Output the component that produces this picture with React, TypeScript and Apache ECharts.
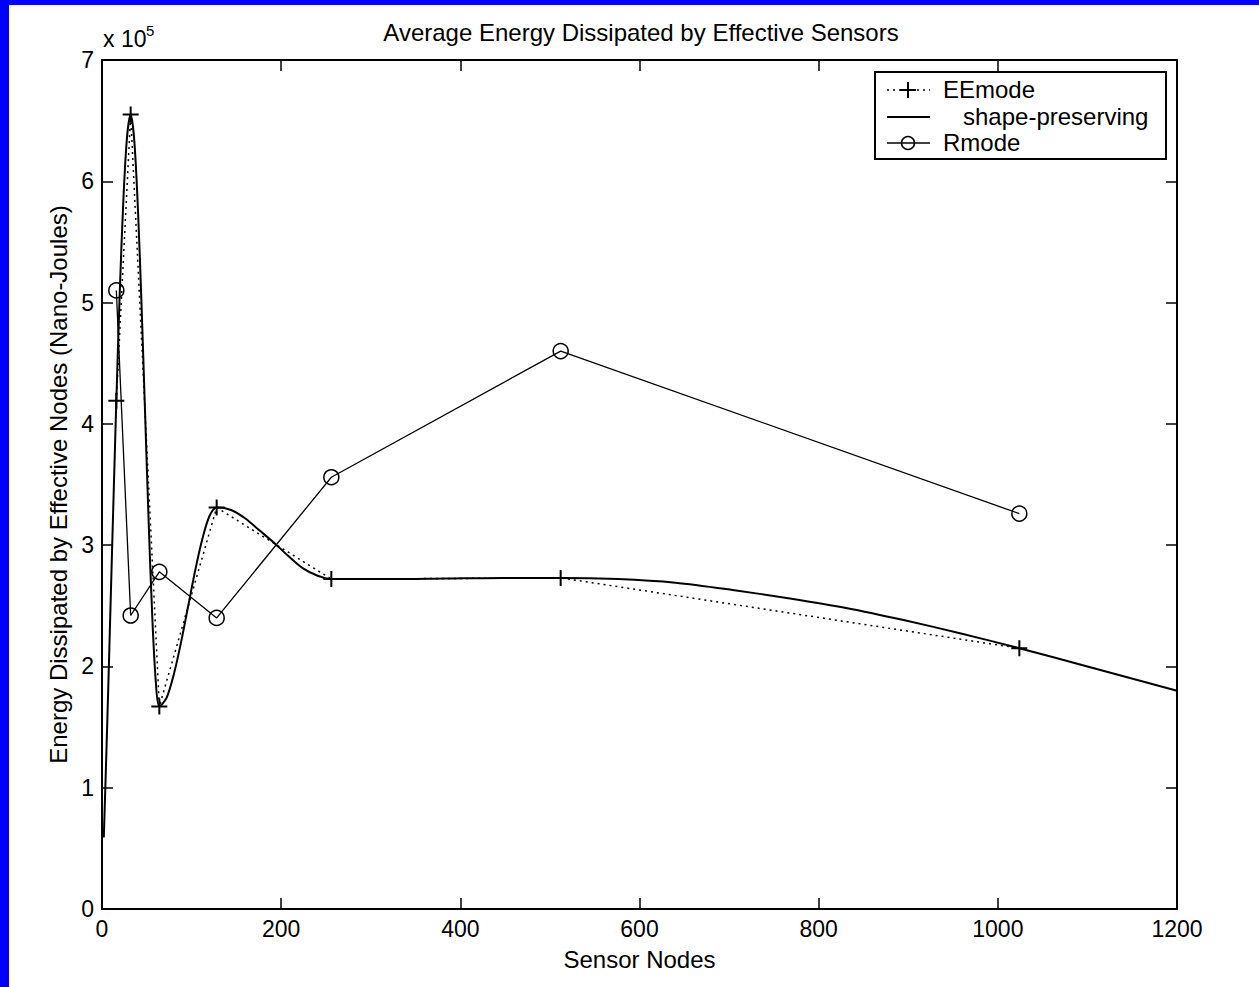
import React, { useEffect, useRef } from 'react';
import * as echarts from 'echarts';

// Sensor node counts (x) and energies in units of 1e5 nJ
const nodes = [16, 32, 64, 128, 256, 512, 1024];
const eeMode = [4.19, 6.55, 1.67, 3.31, 2.72, 2.73, 2.15];
const rMode = [5.1, 2.42, 2.78, 2.4, 3.56, 4.6, 3.26];

// shape-preserving curve
const spX = [2, 4, 6, 8, 10, 12, 14, 16, 20, 24, 28, 32, 36, 40, 44, 48, 52, 56, 60, 64, 72, 80, 88, 96, 104, 112, 120, 128, 144, 160, 176, 192, 208, 224, 240, 256, 320, 384, 448, 512, 576, 640, 704, 768, 832, 896, 960, 1024, 1100, 1200];
const spY = [0.59, 1.07, 1.57, 2.09, 2.63, 3.16, 3.68, 4.19, 5.12, 5.87, 6.37, 6.55, 6.34, 5.79, 5.01, 4.11, 3.21, 2.43, 1.88, 1.67, 1.74, 1.93, 2.19, 2.49, 2.79, 3.05, 3.24, 3.31, 3.29, 3.22, 3.12, 3.02, 2.91, 2.81, 2.75, 2.72, 2.72, 2.725, 2.73, 2.73, 2.72, 2.69, 2.63, 2.56, 2.48, 2.38, 2.27, 2.15, 2.0, 1.8];

const xMin = 0;
const xMax = 1200;
const xStep = 200;
const yMin = 0;
const yMax = 7;
const yStep = 1;

const titleText = 'Average Energy Dissipated by Effective Sensors';
const xName = 'Sensor Nodes';
const yName = 'Energy Dissipated by Effective Nodes (Nano-Joules)';
const multText = 'x 10';
const multExp = '5';
const legendNames = ['EEmode', 'shape-preserving', 'Rmode'];

const FONT = '"Liberation Sans", Arial, Helvetica, sans-serif';
const PLUS = 'path://M8,0L8,16M0,8L16,8';

export default function App() {
  const ref = useRef<HTMLDivElement>(null);
  useEffect(() => {
    if (!ref.current) return;
    const chart = echarts.init(ref.current, null, { renderer: 'svg' });
    const axisCommon = {
      type: 'value' as const,
      splitLine: { show: false },
      axisLine: { show: true, onZero: false, lineStyle: { color: '#000', width: 2 } },
      axisTick: { show: true, inside: true, length: 11, lineStyle: { color: '#000', width: 1.5 } },
    };
    const labelCommon = {
      fontSize: 23,
      color: '#000',
      margin: 8,
      fontFamily: FONT,
      formatter: (v: number) => String(v),
    };
    const txt = (x: number, y: number, text: string, size: number, align = 'left') => ({
      type: 'text',
      x,
      y,
      z: 200,
      style: {
        text,
        fill: '#000',
        font: `${size}px ${FONT}`,
        fontSize: size,
        fontFamily: FONT,
        align,
        textAlign: align,
        verticalAlign: 'middle',
        textVerticalAlign: 'middle',
      },
    });
    const ln = (x1: number, y1: number, x2: number, y2: number, w: number, dash?: number[]) => ({
      type: 'line',
      z: 200,
      shape: { x1, y1, x2, y2 },
      style: { stroke: '#000', lineWidth: w, lineDash: dash },
    });
    chart.setOption({
      animation: false,
      backgroundColor: '#fff',
      textStyle: { fontFamily: FONT, color: '#000' },
      grid: { left: 102, right: 82, top: 60, bottom: 78 },
      xAxis: [
        {
          ...axisCommon,
          position: 'bottom',
          min: xMin,
          max: xMax,
          interval: xStep,
          name: xName,
          nameLocation: 'middle',
          nameGap: 38,
          nameTextStyle: { fontSize: 24, color: '#000', fontFamily: FONT },
          axisLabel: labelCommon,
        },
        {
          ...axisCommon,
          position: 'top',
          min: xMin,
          max: xMax,
          interval: xStep,
          axisLabel: { show: false },
        },
      ],
      yAxis: [
        {
          ...axisCommon,
          position: 'left',
          min: yMin,
          max: yMax,
          interval: yStep,
          name: yName,
          nameLocation: 'middle',
          nameRotate: 90,
          nameGap: 27,
          nameTextStyle: { fontSize: 24, color: '#000', fontFamily: FONT },
          axisLabel: labelCommon,
        },
        {
          ...axisCommon,
          position: 'right',
          min: yMin,
          max: yMax,
          interval: yStep,
          axisLabel: { show: false },
        },
      ],
      series: [
        {
          name: legendNames[0],
          type: 'line',
          data: nodes.map((x, i) => [x, eeMode[i]]),
          lineStyle: { color: '#000', width: 1.5, type: [2, 4] },
          symbol: PLUS,
          symbolSize: 16,
          itemStyle: { color: 'transparent', borderColor: '#000', borderWidth: 2 },
          z: 3,
        },
        {
          name: legendNames[1],
          type: 'line',
          data: spX.map((x, i) => [x, spY[i]]),
          lineStyle: { color: '#000', width: 2 },
          showSymbol: false,
          symbol: 'none',
          smooth: 0.3,
          z: 2,
        },
        {
          name: legendNames[2],
          type: 'line',
          data: nodes.map((x, i) => [x, rMode[i]]),
          lineStyle: { color: '#000', width: 1.3 },
          symbol: 'circle',
          symbolSize: 15,
          itemStyle: { color: 'transparent', borderColor: '#000', borderWidth: 1.5 },
          z: 4,
        },
      ],
      graphic: [
        { type: 'rect', z: 300, shape: { x: 0, y: 0, width: 9, height: 987 }, style: { fill: '#0000ff' } },
        { type: 'rect', z: 300, shape: { x: 0, y: 0, width: 1259, height: 5 }, style: { fill: '#0000ff' } },
        txt(641, 32, titleText, 24, 'center'),
        txt(103, 39, multText, 23),
        txt(146, 30, multExp, 15),
        {
          type: 'rect',
          z: 190,
          shape: { x: 875, y: 72, width: 291, height: 87 },
          style: { fill: '#fff', stroke: '#000', lineWidth: 2 },
        },
        ln(887, 90, 930, 90, 1.5, [2, 4]),
        ln(908, 82, 908, 98, 2),
        ln(900, 90, 916, 90, 2),
        txt(943, 89, legendNames[0], 24),
        ln(887, 117, 930, 117, 2),
        txt(963, 116, legendNames[1], 24),
        ln(887, 143, 930, 143, 1.3),
        {
          type: 'circle',
          z: 200,
          shape: { cx: 908, cy: 143, r: 6.5 },
          style: { fill: 'transparent', stroke: '#000', lineWidth: 1.5 },
        },
        txt(943, 142, legendNames[2], 24),
      ],
    });
    return () => chart.dispose();
  }, []);
  return (
    <div
      ref={ref}
      style={{ position: 'fixed', left: 0, top: 0, width: 1259, height: 987, background: '#fff' }}
    />
  );
}
